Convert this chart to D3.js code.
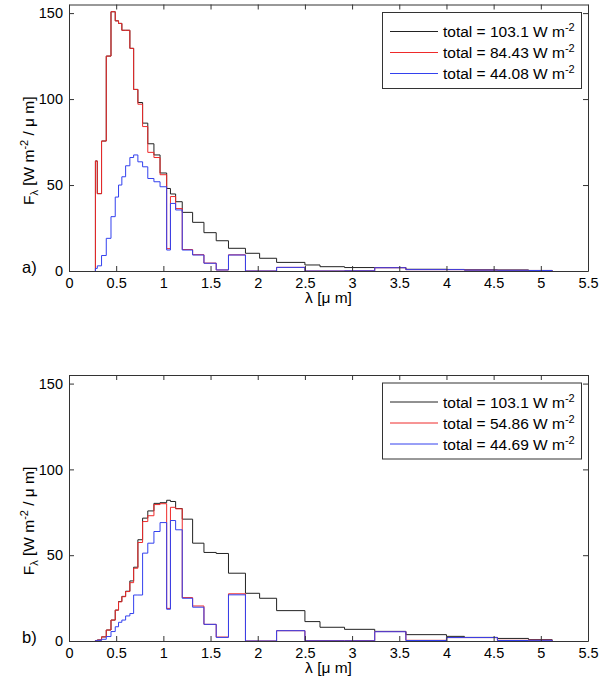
<!DOCTYPE html>
<html>
<head>
<meta charset="utf-8">
<script src="https://cdnjs.cloudflare.com/ajax/libs/d3/7.8.5/d3.min.js"></script>
<style>
    body { margin:0; padding:0; background:#fff; }
    svg { display:block; font-family:"Liberation Sans", Arial, sans-serif; }
    .axis text { font-size:14.5px; fill:#000; font-family:"Liberation Sans", Arial, sans-serif; }
    .axis path, .axis line { stroke:#333; stroke-width:1; }
    .spec { fill:none; stroke-width:1; stroke-linejoin:miter; }
</style>
</head>
<body>
<svg width="600" height="683"></svg>
<script>

// band edges in micrometres (same for every curve)
var edges = [0.28, 0.30, 0.345, 0.395, 0.445, 0.49, 0.525, 0.56, 0.60, 0.645, 0.685, 0.73, 0.78,
             0.835, 0.90, 0.965, 1.035, 1.075, 1.13, 1.2, 1.31, 1.43, 1.56, 1.69, 1.87, 2.02, 2.2,
             2.5, 2.66, 2.92, 3.24, 3.57, 4.0, 4.19, 4.54, 4.87, 5.12];

// panel a)
var topBlack = [64, 45, 75.6, 125, 150.8, 145.5, 144, 140, 140, 129.5, 105.6, 98, 86, 74, 67.5, 57,
                48, 44.8, 40.3, 34.1, 28.3, 22.3, 17.6, 13.2, 10.3, 7.4, 5.0, 3.5, 2.5, 2.0, 2.0,
                1.0, 0.9, 0.7, 0.6, 0.3];
var topRed   = [64, 45, 75.6, 125, 150.8, 145.5, 144, 140, 140, 129.5, 105.6, 97, 84, 69, 66, 56,
                13, 43.3, 36.3, 12.5, 9.5, 4.6, 0.6, 9.4, 0, 0, 2.1, 0, 0, 0.1, 1.9,
                0.8, 0.8, 0.5, 0.4, 0.3];
var topBlue  = [1.5, 3, 9, 19, 31.6, 43, 50, 54.8, 61.2, 66, 67.5, 63.5, 60.6, 53.8, 51.9, 49,
                12.2, 39.3, 35.5, 12.2, 9.3, 4.5, 0.6, 9.3, 0, 0, 2.1, 0, 0, 0.1, 1.9,
                0.8, 0.8, 0.5, 0.4, 0.3];
var topLabels = ["total = 103.1 W m", "total = 84.43 W m", "total = 44.08 W m"];

// panel b)
var botBlack = [0.3, 0.6, 2.4, 6.4, 12.2, 18, 23, 26, 29, 35, 43, 59, 71.6, 75.8, 80.2, 80.6,
                82, 81.3, 77.2, 71, 57, 51.6, 51, 39.5, 27.8, 24.9, 17.7, 11.3, 8.0, 6.8, 5.6,
                3.7, 2.7, 2.1, 1.5, 0.8];
var botRed   = [0.3, 0.6, 2.4, 6.4, 12.2, 18, 22.8, 25.8, 28.8, 34, 42.4, 57.4, 69.6, 73, 79.5, 80,
                19, 77.9, 77, 25.3, 20.4, 9.7, 2.3, 27.5, 0, 0, 6.0, 0.2, 0.2, 0.2, 5.5,
                0.4, 2.0, 2.0, 0.4, 0.5];
var botBlue  = [0.2, 0.4, 1.0, 2.6, 5.5, 8.3, 10.9, 12.2, 14.6, 16, 26.8, 26.8, 51.2, 57, 63.8, 69,
                18.5, 70.2, 64.8, 24.9, 19.7, 9.7, 2.1, 26.9, 0, 0, 6.0, 0.1, 0.1, 0.1, 5.4,
                0.3, 2.0, 2.0, 0.3, 0.4];
var botLabels = ["total = 103.1 W m", "total = 54.86 W m", "total = 44.69 W m"];

var xTicks = [0, 0.5, 1, 1.5, 2, 2.5, 3, 3.5, 4, 4.5, 5, 5.5];
var yTicks = [0, 50, 100, 150];
var colors = ["#222", "#ee2a2a", "#3341ee"];

var svg = d3.select("svg");
var x = d3.scaleLinear().domain([0, 5.5]).range([69, 588]);

function stairs(vals) {
    var pts = [{x: edges[0], y: 0}];
    vals.forEach(function(v, i) { pts.push({x: edges[i], y: v}); });
    pts.push({x: edges[edges.length - 1], y: 0});
    return pts;
}

function drawPanel(top, bottom, series, labels, tag) {
    var y = d3.scaleLinear().domain([0, 155]).range([bottom, top]);
    var g = svg.append("g");

    var line = d3.line()
        .x(function(d) { return x(d.x); })
        .y(function(d) { return y(d.y); })
        .curve(d3.curveStepAfter);

    series.forEach(function(s, i) {
        g.append("path")
            .attr("class", "spec")
            .attr("stroke", colors[i])
            .attr("d", line(stairs(s)));
    });

    g.append("g").attr("class", "axis")
        .attr("transform", "translate(0," + bottom + ")")
        .call(d3.axisBottom(x).tickValues(xTicks).tickSizeInner(-5).tickSizeOuter(0)
            .tickPadding(7).tickFormat(d3.format("")));
    g.append("g").attr("class", "axis")
        .attr("transform", "translate(0," + top + ")")
        .call(d3.axisTop(x).tickValues(xTicks).tickSizeInner(-5).tickSizeOuter(0)
            .tickFormat(""));
    g.append("g").attr("class", "axis")
        .attr("transform", "translate(69,0)")
        .call(d3.axisLeft(y).tickValues(yTicks).tickSizeInner(-5).tickSizeOuter(0)
            .tickPadding(6));
    g.append("g").attr("class", "axis")
        .attr("transform", "translate(588,0)")
        .call(d3.axisRight(y).tickValues(yTicks).tickSizeInner(-5).tickSizeOuter(0)
            .tickFormat(""));

    // x label
    g.append("text")
        .attr("x", (69 + 588) / 2)
        .attr("y", bottom + 32)
        .attr("text-anchor", "middle")
        .style("font-size", "15.5px")
        .text("\u03bb [\u03bc m]");

    // y label
    var yl = g.append("text")
        .attr("transform", "translate(34," + ((top + bottom) / 2 + 13) + ") rotate(-90)")
        .attr("text-anchor", "middle")
        .style("font-size", "15.5px");
    yl.append("tspan").text("F");
    yl.append("tspan").attr("dy", 4).style("font-size", "11px").text("\u03bb");
    yl.append("tspan").attr("dy", -4).text(" [W m");
    yl.append("tspan").attr("dy", -6).style("font-size", "11px").text("-2");
    yl.append("tspan").attr("dy", 6).text(" / \u03bc m]");

    g.append("text")
        .attr("x", 22)
        .attr("y", bottom + 2)
        .style("font-size", "16.5px")
        .text(tag);

    // legend
    var lg = g.append("g");
    lg.append("rect")
        .attr("x", 382.5).attr("y", top + 8)
        .attr("width", 199).attr("height", 76)
        .attr("fill", "#fff").attr("stroke", "#333");
    labels.forEach(function(t, i) {
        var ry = top + 27 + i * 21;
        lg.append("line")
            .attr("x1", 390).attr("x2", 438)
            .attr("y1", ry).attr("y2", ry)
            .attr("stroke", colors[i]).attr("stroke-width", 1);
        var tx = lg.append("text")
            .attr("x", 443).attr("y", ry + 5.5)
            .style("font-size", "15.5px");
        tx.append("tspan").text(t);
        tx.append("tspan").attr("dy", -6).style("font-size", "11px").text("-2");
    });
}

drawPanel(4.5, 271, [topBlack, topRed, topBlue], topLabels, "a)");
drawPanel(375, 641, [botBlack, botRed, botBlue], botLabels, "b)");

</script>
</body>
</html>
